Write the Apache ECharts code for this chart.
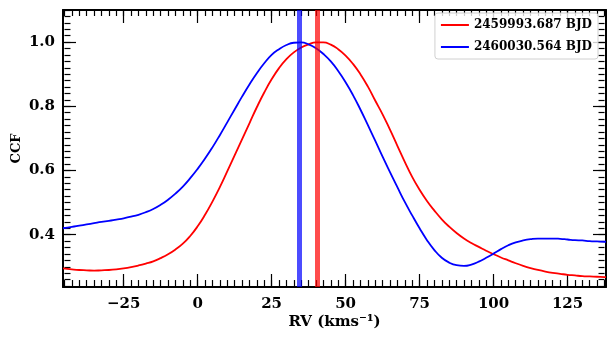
<!DOCTYPE html>
<html>
<head>
<meta charset="utf-8">
<script src="https://cdn.jsdelivr.net/npm/echarts@6/dist/echarts.min.js"></script>
<style>
  html, body { margin: 0; padding: 0; background: #fff; }
  #ccf { width: 615px; height: 342px; }
</style>
</head>
<body>
<div id="ccf"></div>
<script>
// RV grid (km/s) shared by both CCFs
var rv = [-45.5, -42.5, -40, -37.5, -35, -32.5, -30, -27.5, -25, -22.5,
    -20, -17.5, -15, -12.5, -10, -7.5, -5, -2.5, 0, 2.5,
    5, 7.5, 10, 12.5, 15, 17.5, 20, 22.5, 25, 27.5,
    30, 32.5, 35, 37.5, 40, 42.5, 45, 47.5, 50, 52.5,
    55, 57.5, 60, 62.5, 65, 67.5, 70, 72.5, 75, 77.5,
    80, 82.5, 85, 87.5, 90, 92.5, 95, 97.5, 100, 102.5,
    105, 107.5, 110, 112.5, 115, 117.5, 120, 122.5, 125, 127.5,
    130, 132.5, 135, 137.5, 138];

// 2459993.687 BJD
var ccfRed = [0.295, 0.292, 0.290, 0.289, 0.288, 0.289, 0.290, 0.292, 0.295, 0.299,
    0.304, 0.310, 0.317, 0.327, 0.339, 0.354, 0.372, 0.396, 0.426, 0.462,
    0.503, 0.548, 0.597, 0.647, 0.697, 0.747, 0.797, 0.843, 0.884, 0.919,
    0.947, 0.968, 0.983, 0.993, 0.999, 0.999, 0.992, 0.978, 0.958, 0.932,
    0.900, 0.862, 0.818, 0.775, 0.727, 0.677, 0.627, 0.580, 0.540, 0.505,
    0.475, 0.448, 0.425, 0.405, 0.388, 0.374, 0.362, 0.350, 0.339, 0.329,
    0.320, 0.311, 0.303, 0.296, 0.290, 0.285, 0.281, 0.278, 0.275, 0.273,
    0.271, 0.270, 0.269, 0.268, 0.268];

// 2460030.564 BJD
var ccfBlue = [0.420, 0.424, 0.428, 0.432, 0.436, 0.440, 0.443, 0.447, 0.451, 0.456,
    0.462, 0.470, 0.480, 0.493, 0.509, 0.528, 0.550, 0.576, 0.605, 0.637,
    0.672, 0.710, 0.750, 0.790, 0.830, 0.868, 0.903, 0.934, 0.960, 0.978,
    0.991, 0.998, 0.999, 0.993, 0.981, 0.963, 0.940, 0.910, 0.875, 0.835,
    0.790, 0.742, 0.693, 0.643, 0.595, 0.548, 0.502, 0.460, 0.420, 0.383,
    0.352, 0.328, 0.313, 0.305, 0.303, 0.307, 0.316, 0.328, 0.341, 0.355,
    0.367, 0.376, 0.382, 0.386, 0.388, 0.388, 0.388, 0.387, 0.385, 0.383,
    0.382, 0.380, 0.379, 0.378, 0.378];

var names = ['2459993.687 BJD', '2460030.564 BJD'];
var peakRv = [40.5, 34.3];

var xMajor = [-25, 0, 25, 50, 75, 100, 125];
var yMajor = [0.4, 0.6, 0.8, 1.0];

var font = 'DejaVu Serif';
var X_MIN = -45.5, X_MAX = 138, Y_MIN = 0.237, Y_MAX = 1.1;

// main plot box in pixels
var G = { left: 63, right: 9, top: 10, bottom: 55 };
var W = 615 - G.left - G.right, H = 342 - G.top - G.bottom;

// tick-only grids sized so their range starts/ends on a minor tick
var MX_MIN = -45, MX_MAX = 137.5, MY_MIN = 0.24, MY_MAX = 1.1;
var pxX = W / (X_MAX - X_MIN), pxY = H / (Y_MAX - Y_MIN);
var G2 = {
    left: G.left + (MX_MIN - X_MIN) * pxX,
    right: G.right + (X_MAX - MX_MAX) * pxX,
    top: G.top + (Y_MAX - MY_MAX) * pxY,
    bottom: G.bottom + (MY_MIN - Y_MIN) * pxY
};

function pairs(ys) {
    return rv.map(function (x, k) { return [x, ys[k]]; });
}

function majorX(pos, withLabels) {
    return {
        type: 'value', gridIndex: 0, position: pos, min: X_MIN, max: X_MAX,
        axisLine: { show: true, onZero: false, lineStyle: { color: '#000', width: 2 } },
        axisTick: { show: true, inside: true, length: 13, customValues: xMajor, lineStyle: { color: '#000', width: 1.2 } },
        axisLabel: withLabels ? {
            show: true, customValues: xMajor, margin: 10,
            fontFamily: font, fontWeight: 'bold', fontSize: 15, color: '#000',
            formatter: function (v) { return v < 0 ? '\u2212' + (-v) : '' + v; }
        } : { show: false },
        splitLine: { show: false }
    };
}

function majorY(pos, withLabels) {
    return {
        type: 'value', gridIndex: 0, position: pos, min: Y_MIN, max: Y_MAX,
        axisLine: { show: true, onZero: false, lineStyle: { color: '#000', width: 2 } },
        axisTick: { show: true, inside: true, length: 13, customValues: yMajor, lineStyle: { color: '#000', width: 1.2 } },
        axisLabel: withLabels ? {
            show: true, customValues: yMajor, margin: 8,
            fontFamily: font, fontWeight: 'bold', fontSize: 15, color: '#000',
            formatter: function (v) { return v.toFixed(1); }
        } : { show: false },
        splitLine: { show: false }
    };
}

function minorAxis(grid, pos, min, max, step) {
    return {
        type: 'value', gridIndex: grid, position: pos, min: min, max: max, interval: step,
        axisLine: { show: true, onZero: false, lineStyle: { color: '#000', width: 2, opacity: 0 } },
        axisTick: { show: true, inside: true, length: 6, lineStyle: { color: '#000', width: 1.2 } },
        axisLabel: { show: false },
        splitLine: { show: false }
    };
}

var chart = echarts.init(document.getElementById('ccf'));

var xs = [
    majorX('bottom', true),
    majorX('top', false),
    minorAxis(1, 'bottom', MX_MIN, MX_MAX, 2.5),
    minorAxis(2, 'top', MX_MIN, MX_MAX, 2.5)
];
xs[0].name = 'RV (kms\u207B\u00B9)';
xs[0].nameLocation = 'middle';
xs[0].nameGap = 28;
xs[0].nameMoveOverlap = false;
xs[0].nameTextStyle = { fontFamily: font, fontWeight: 'bold', fontSize: 15, color: '#000' };

var ys = [
    majorY('left', true),
    majorY('right', false),
    minorAxis(1, 'left', MY_MIN, MY_MAX, 0.02),
    minorAxis(2, 'right', MY_MIN, MY_MAX, 0.02)
];
ys[0].name = 'CCF';
ys[0].nameLocation = 'middle';
ys[0].nameGap = 40;
ys[0].nameMoveOverlap = false;
ys[0].nameTextStyle = { fontFamily: font, fontWeight: 'bold', fontSize: 13, color: '#000' };

var colors = ['#ff0000', '#0000ff'];

function gridBox(b) {
    return { left: b.left, right: b.right, top: b.top, bottom: b.bottom, containLabel: false, outerBoundsMode: 'none' };
}

chart.setOption({
    animation: false,
    backgroundColor: '#fff',
    grid: [gridBox(G), gridBox(G2), gridBox(G2)],
    legend: {
        right: 17, top: 13, orient: 'vertical',
        icon: 'rect', itemWidth: 28, itemHeight: 2, itemGap: 10,
        padding: [6, 6, 6, 6],
        borderColor: '#d0d0d0', borderWidth: 1, borderRadius: 3,
        backgroundColor: 'rgba(255,255,255,0.8)',
        textStyle: { fontFamily: font, fontWeight: 'bold', fontSize: 12, color: '#000' },
        data: names
    },
    xAxis: xs,
    yAxis: ys,
    series: [0, 1].map(function (k) {
        return {
            name: names[k],
            type: 'line',
            xAxisIndex: 0, yAxisIndex: 0,
            data: pairs(k === 0 ? ccfRed : ccfBlue),
            smooth: true,
            showSymbol: false,
            symbol: 'none',
            color: colors[k],
            lineStyle: { color: colors[k], width: 1.8 },
            markLine: {
                silent: true, symbol: 'none',
                label: { show: false },
                lineStyle: { color: colors[k], width: 5, type: 'solid', opacity: 0.7 },
                data: [{ xAxis: peakRv[k] }]
            }
        };
    })
});
</script>
</body>
</html>
